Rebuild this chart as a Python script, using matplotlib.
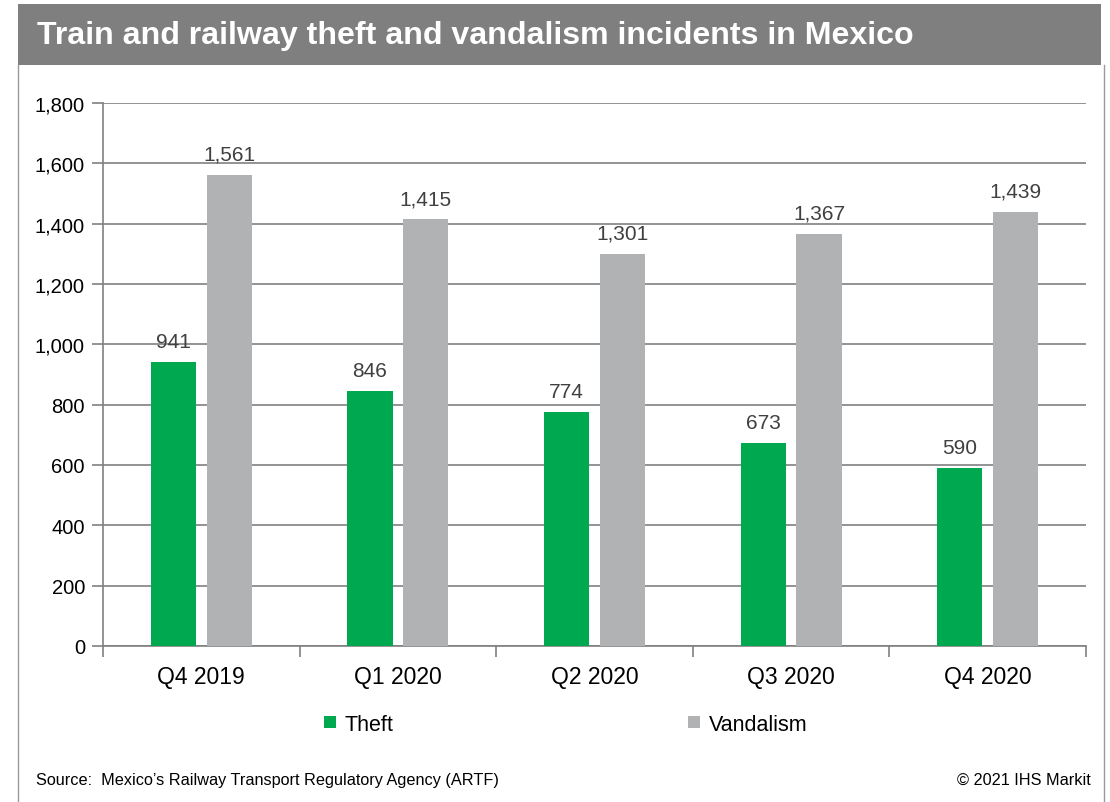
import matplotlib
matplotlib.use("Agg")
import matplotlib.pyplot as plt
import numpy as np
from matplotlib.patches import Rectangle
from matplotlib.lines import Line2D

plt.rcParams['font.family'] = ['Liberation Sans', 'DejaVu Sans']

quarters = ["Q4 2019", "Q1 2020", "Q2 2020", "Q3 2020", "Q4 2020"]
theft = [941, 846, 774, 673, 590]
vandalism = [1561, 1415, 1301, 1367, 1439]

green = "#00A94F"
grey_bar = "#B1B2B4"
grid_col = "#808080"
text_col = "#000000"
label_col = "#404040"

fig = plt.figure(figsize=(11.10, 8.03), dpi=100)

# Header band and frame
fig.patches.append(Rectangle((0.0162, 0.9178), 0.9757, 0.0760, transform=fig.transFigure,
                             facecolor="#7F7F7F", edgecolor="none", zorder=0))
fig.lines.append(Line2D([0.0158, 0.0158], [0.0, 0.9178], transform=fig.transFigure,
                        color="#9A9A9A", lw=1.0))
fig.lines.append(Line2D([0.9950, 0.9950], [0.0, 0.9178], transform=fig.transFigure,
                        color="#9A9A9A", lw=1.0))
fig.text(0.033, 0.955, "Train and railway theft and vandalism incidents in Mexico",
         color="white", fontsize=23.1, fontweight="bold", va="center", ha="left")

ax = fig.add_axes([0.0928, 0.1943, 0.8856, 0.6762])
x = np.arange(len(quarters))
w = 0.23
off = 0.142
b1 = ax.bar(x - off, theft, width=w, color=green, zorder=3, label="Theft")
b2 = ax.bar(x + off, vandalism, width=w, color=grey_bar, zorder=3, label="Vandalism")

for bars, vals in ((b1, theft), (b2, vandalism)):
    for r, v in zip(bars, vals):
        ax.annotate(f"{v:,}", (r.get_x() + r.get_width() / 2, v), xytext=(0, 8),
                    textcoords="offset points", ha="center", va="bottom",
                    fontsize=15, color=label_col)

ax.set_xlim(-0.5, len(quarters) - 0.5)
ax.set_ylim(0, 1800)
ax.set_yticks(np.arange(0, 1801, 200))
ax.set_yticklabels([f"{v:,}" for v in range(0, 1801, 200)])
ax.yaxis.grid(True, color=grid_col, lw=1.2, zorder=0)
ax.set_axisbelow(True)

ax.set_xticks(x)
ax.set_xticklabels(quarters)
ax.tick_params(axis="x", length=0, pad=13.5, labelsize=16.5, colors=text_col)
ax.set_xticks(np.arange(-0.5, len(quarters)), minor=True)
ax.tick_params(axis="x", which="minor", length=8, width=1.2, color=grid_col, direction="out")
ax.tick_params(axis="y", length=8, width=1.2, color=grid_col, pad=5, labelsize=14.5, labelcolor=text_col)

for s in ("top", "right"):
    ax.spines[s].set_visible(False)
for s in ("left", "bottom"):
    ax.spines[s].set_color(grid_col)
    ax.spines[s].set_linewidth(1.2)

leg = fig.legend(handles=[b1, b2], labels=["Theft", "Vandalism"], loc="center",
                 bbox_to_anchor=(0.5095, 0.097), ncol=2, frameon=False, fontsize=15.5,
                 handlelength=0.55, handleheight=0.55, handletextpad=0.4, columnspacing=13.7)

fig.text(0.032, 0.028, "Source:  Mexico\u2019s Railway Transport Regulatory Agency (ARTF)",
         fontsize=11.7, color=text_col, ha="left", va="center")
fig.text(0.983, 0.028, "\u00a9 2021 IHS Markit", fontsize=11.7, color=text_col,
         ha="right", va="center")

fig.savefig("out.png", dpi=100)
